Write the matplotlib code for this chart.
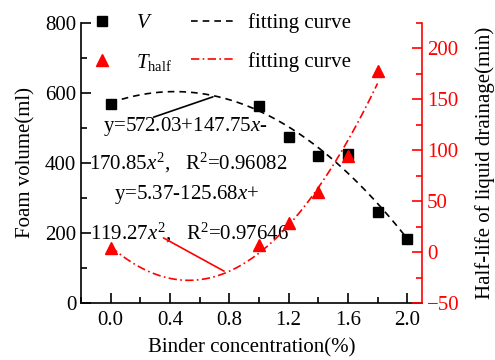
import numpy as np
import matplotlib.pyplot as plt
from matplotlib.ticker import MultipleLocator

plt.rcParams['font.family'] = 'Liberation Serif'
plt.rcParams['mathtext.fontset'] = 'custom'
plt.rcParams['mathtext.rm'] = 'Liberation Serif'
plt.rcParams['mathtext.it'] = 'Liberation Serif:italic'
plt.rcParams['font.size'] = 15

# data
x_v = [0.0, 1.0, 1.2, 1.4, 1.6, 1.8, 2.0]
foam_volume = [568, 563, 475, 421, 425, 259, 182]
x_t = [0.0, 1.0, 1.2, 1.4, 1.6, 1.8]
half_life = [4, 7, 29, 59, 94, 178]

# fitted coefficients (a0, a1, a2)
coef_v = [572.03, 147.75, -170.85]
coef_t = [5.37, -125.68, 119.27]

def quad(c, x):
    return c[0] + c[1] * x + c[2] * x ** 2

fig = plt.figure(figsize=(4.95, 3.6), dpi=100)
ax = fig.add_axes([81 / 495, 1 - 303 / 360, 341 / 495, 280 / 360])
ax2 = ax.twinx()

xs_v = np.linspace(0, 2.0, 200)
xs_t = np.linspace(0, 1.8, 200)

p1, = ax.plot(x_v, foam_volume, 's', color='black', markersize=7, linestyle='none', zorder=5)
l1, = ax.plot(xs_v, quad(coef_v, xs_v), '--', color='black', lw=1.2, dashes=(4, 3))
p2, = ax2.plot(x_t, half_life, '^', color='red', markersize=8, linestyle='none', zorder=5)
l2, = ax2.plot(xs_t, quad(coef_t, xs_t), '-.', color='red', lw=1.2, dashes=(5, 2, 1, 2))

ax.set_xlim(-0.2, 2.1)
ax.set_ylim(0, 800)
ax2.set_ylim(-50, 225)

ax.xaxis.set_minor_locator(MultipleLocator(0.2))
ax.yaxis.set_major_locator(MultipleLocator(200))
ax.yaxis.set_minor_locator(MultipleLocator(100))
ax2.yaxis.set_major_locator(MultipleLocator(50))
ax2.yaxis.set_minor_locator(MultipleLocator(25))
ax.set_xticks([0.0, 0.4, 0.8, 1.2, 1.6, 2.0])
ax.set_xticklabels(['0.0', '0.4', '0.8', '1.2', '1.6', '2.0'])

ax.tick_params(which='both', direction='in', width=1.2, labelsize=15)
ax.tick_params(which='major', length=7)
ax.tick_params(which='minor', length=4)
ax.tick_params(axis='x', which='both', top=False, pad=6)
ax2.tick_params(which='both', direction='in', width=1.2, colors='red', labelsize=15)
ax2.tick_params(which='major', length=7)
ax2.tick_params(which='minor', length=4)

for a in (ax, ax2):
    a.spines['top'].set_visible(False)
    for s in a.spines.values():
        s.set_linewidth(1.2)
ax.spines['right'].set_visible(False)
ax2.spines['left'].set_visible(False)
ax2.spines['bottom'].set_visible(False)
ax2.spines['right'].set_color('red')

ax.set_xlabel('Binder concentration(%)', labelpad=6)
ax.set_ylabel('Foam volume(ml)', labelpad=7)
ax2.set_ylabel('Half-life of liquid drainage(min)', color='black', labelpad=11)

# equation labels
ax.text(-0.054, 503, 'y=572.03+147.75$x$-', va='center', ha='left')
ax.text(-0.148, 400, '170.85$x^2$,   R$^2$=0.96082', va='center', ha='left')
ax.text(0.02, 309, 'y=5.37-125.68$x$+', va='center', ha='left')
ax.text(-0.14, 200, '119.27$x^2$,   R$^2$=0.97646', va='center', ha='left')
ax.annotate('', xy=(0.69, 589), xytext=(0.29, 531),
            arrowprops=dict(arrowstyle='-', color='black', lw=1.2, shrinkA=0, shrinkB=0))
ax.annotate('', xy=(0.765, 91), xytext=(0.356, 186),
            arrowprops=dict(arrowstyle='-', color='red', lw=1.2, shrinkA=0, shrinkB=0))

fig.legend([p1, p2, l1, l2], ['$V$', '$T_{\\mathrm{half}}$', 'fitting curve', 'fitting curve'],
           ncol=2, loc='upper left', bbox_to_anchor=(80 / 495, 1 - 13 / 360),
           frameon=False, borderpad=0, borderaxespad=0, handlelength=2.1,
           handletextpad=0.6, columnspacing=0.9, labelspacing=0.9, fontsize=15)

fig.savefig('out.png', dpi=100)
